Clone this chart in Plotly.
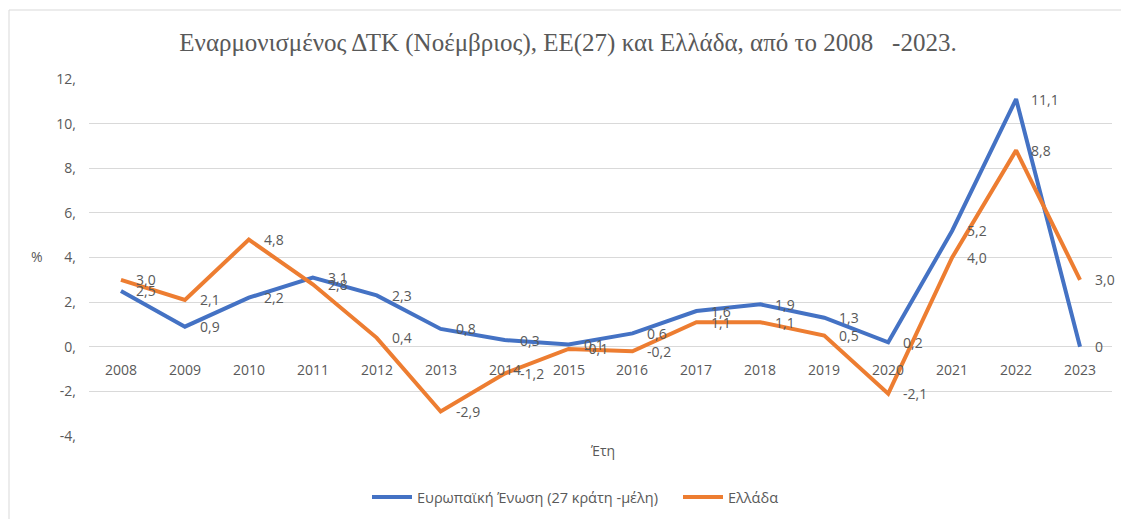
import plotly.graph_objects as go

years = list(range(2008, 2024))
eu_values = [2.5, 0.9, 2.2, 3.1, 2.3, 0.8, 0.3, 0.1, 0.6, 1.6, 1.9, 1.3, 0.2, 5.2, 11.1, 0.0]
gr_values = [3.0, 2.1, 4.8, 2.8, 0.4, -2.9, -1.2, -0.1, -0.2, 1.1, 1.1, 0.5, -2.1, 4.0, 8.8, 3.0]
y_ticks = [-4, -2, 0, 2, 4, 6, 8, 10, 12]
y_tick_labels = ["-4,", "-2,", "0,", "2,", "4,", "6,", "8,", "10,", "12,"]

title = "Εναρμονισμένος ΔΤΚ (Νοέμβριος), ΕΕ(27) και Ελλάδα, από το 2008   -2023."
eu_name = "Ευρωπαϊκή Ένωση (27 κράτη -μέλη)"
gr_name = "Ελλάδα"

BLUE = "#4472C4"
ORANGE = "#ED7D31"
GREY = "#595959"
GRID = "#D9D9D9"
FONT = "Open Sans"

# the page body has an 8px margin, so the figure is 8px smaller than the window
W, H = 1121, 511
L, R, T, B = 81, 17, 71, 83
PW = W - L - R
PH = H - T - B


def fmt(v):
    if v == 0:
        return "0"
    return f"{v:.1f}".replace(".", ",")


fig = go.Figure()
fig.add_trace(go.Scatter(x=years, y=eu_values, mode="lines", name=eu_name,
                         line=dict(color=BLUE, width=4)))
fig.add_trace(go.Scatter(x=years, y=gr_values, mode="lines", name=gr_name,
                         line=dict(color=ORANGE, width=4)))

annotations = []
for series in (eu_values, gr_values):
    for x, v in zip(years, series):
        annotations.append(dict(x=x, y=v, xref="x", yref="y", text=fmt(v),
                                showarrow=False, xanchor="left", yanchor="middle",
                                xshift=13, font=dict(family=FONT, size=14, color=GREY)))
for x in years:
    annotations.append(dict(x=x, y=-1.0, xref="x", yref="y", text=str(x),
                            showarrow=False, xanchor="center", yanchor="middle",
                            font=dict(family=FONT, size=14, color=GREY)))
annotations.append(dict(x=(602 - 89) / PW, y=(436 - 450) / PH, xref="paper", yref="paper",
                        text="Έτη", showarrow=False, xanchor="center", yanchor="middle",
                        font=dict(family=FONT, size=14, color=GREY)))
annotations.append(dict(x=(37 - 89) / PW, y=(436 - 256) / PH, xref="paper", yref="paper",
                        text="%", showarrow=False, xanchor="center", yanchor="middle",
                        font=dict(family=FONT, size=14, color=GREY)))

fig.update_layout(
    width=W, height=H,
    margin=dict(l=L, r=R, t=T, b=B, autoexpand=False),
    paper_bgcolor="white", plot_bgcolor="white",
    title=dict(text=title, x=(568 - 89) / PW, xref="paper", xanchor="center",
               y=1 - (42 - 8) / H, yref="container", yanchor="middle",
               font=dict(family="Liberation Serif", size=25, color=GREY)),
    xaxis=dict(range=[2007.5, 2023.5], showgrid=False, showticklabels=False,
               zeroline=False, showline=False, ticks=""),
    yaxis=dict(range=[-4, 12], tickvals=y_ticks, ticktext=y_tick_labels,
               showgrid=True, gridcolor=GRID, gridwidth=1, zeroline=False,
               showline=False, ticks="", ticklabelstandoff=12, automargin=False,
               tickfont=dict(family=FONT, size=14, color=GREY)),
    legend=dict(orientation="h", x=(367 - 89) / PW, xanchor="left",
                y=1 - (497 - 8) / H, yref="container", yanchor="middle",
                font=dict(family=FONT, size=14.5, color=GREY), itemwidth=40,
                entrywidth=256, entrywidthmode="pixels",
                traceorder="normal"),
    annotations=annotations,
    shapes=[dict(type="rect", xref="paper", yref="paper",
                 x0=(-L + 1) / PW, x1=(W + 20 - L) / PW,
                 y0=(-B - 30) / PH, y1=(PH + T - 2) / PH,
                 line=dict(color=GRID, width=1), layer="below")],
)

fig.write_html("out.html")
